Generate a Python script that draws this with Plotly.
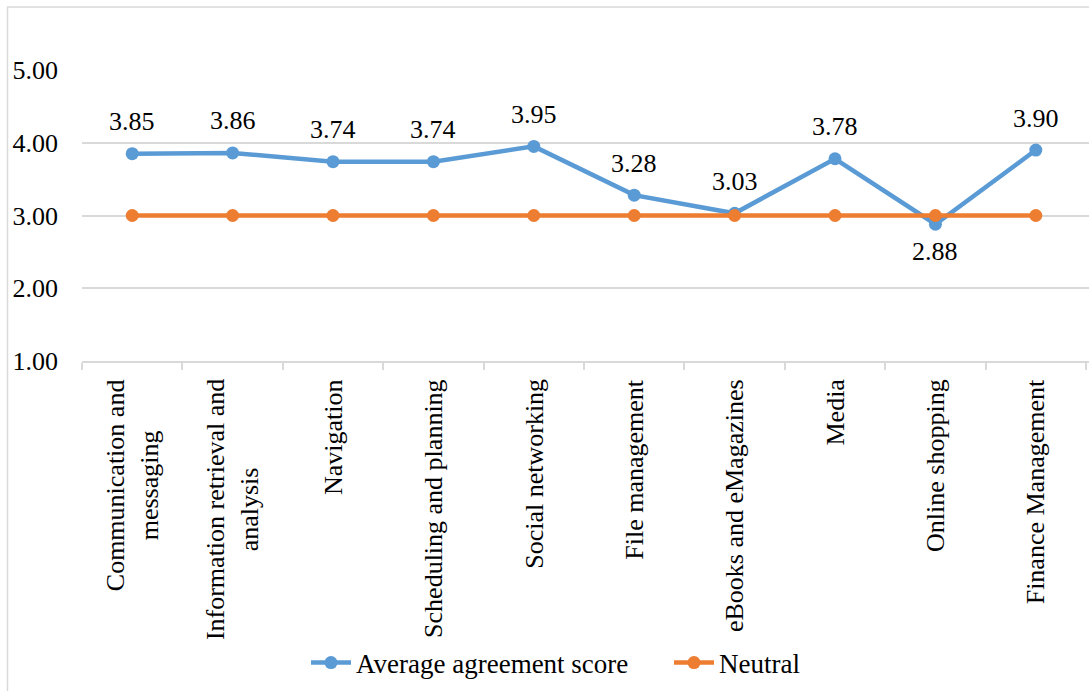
import plotly.graph_objects as go

categories = ["Communication and<br>messaging", "Information retrieval and<br>analysis",
              "Navigation", "Scheduling and planning", "Social networking",
              "File management", "eBooks and eMagazines", "Media",
              "Online shopping", "Finance Management"]
avg_scores = [3.85, 3.86, 3.74, 3.74, 3.95, 3.28, 3.03, 3.78, 2.88, 3.90]
neutral = [3.00] * 10
y_ticks = [1, 2, 3, 4, 5]
y_tick_labels = ["1.00", "2.00", "3.00", "4.00", "5.00"]

BLUE = "#5B9BD5"
ORANGE = "#ED7D31"
GRID = "#D9D9D9"
FONT = "Liberation Serif"
FS = 26

W, H = 1089, 691
ML, MR, MT, MB = 82, 0, 70, 330
pw, ph = W - ML - MR, H - MT - MB

xs = list(range(len(categories)))

fig = go.Figure()
fig.add_trace(go.Scatter(x=xs, y=avg_scores, mode="lines+markers", name="Average agreement score",
                         line=dict(color=BLUE, width=4.5), marker=dict(size=13, color=BLUE)))
fig.add_trace(go.Scatter(x=xs, y=neutral, mode="lines+markers", name="Neutral",
                         line=dict(color=ORANGE, width=4.5), marker=dict(size=13, color=ORANGE)))

annotations = []
for i, v in enumerate(avg_scores):
    below = v < 3
    annotations.append(dict(x=i, y=v, xref="x", yref="y", text=f"{v:.2f}", showarrow=False,
                            font=dict(family=FONT, size=FS, color="#000"),
                            yshift=-27 if below else 32, xanchor="center", yanchor="middle"))
for i, c in enumerate(categories):
    annotations.append(dict(x=i, y=(-(377 - (MT + ph)) / ph), xref="x", yref="paper", text=c,
                            showarrow=False, textangle=-90, align="center",
                            font=dict(family=FONT, size=FS, color="#000"),
                            xanchor="center", yanchor="top"))

shapes = [
    dict(type="line", xref="paper", yref="paper", x0=(7 - ML) / pw, x1=(W + 5 - ML) / pw,
         y0=(MT + ph - 7) / ph, y1=(MT + ph - 7) / ph, line=dict(color=GRID, width=1.5)),
    dict(type="line", xref="paper", yref="paper", x0=(7.5 - ML) / pw, x1=(7.5 - ML) / pw,
         y0=(MT + ph - 7) / ph, y1=(MT + ph - H - 5) / ph, line=dict(color=GRID, width=1.5)),
]

fig.update_layout(
    width=W, height=H,
    margin=dict(l=ML, r=MR, t=MT, b=MB, autoexpand=False),
    paper_bgcolor="white", plot_bgcolor="white",
    font=dict(family=FONT, size=FS, color="#000"),
    showlegend=True,
    legend=dict(orientation="h", x=(306 - ML) / pw, xanchor="left",
                y=-(663 - (MT + ph)) / ph, yanchor="middle",
                font=dict(family=FONT, size=27), itemwidth=40, entrywidth=308,
                entrywidthmode="pixels", traceorder="normal"),
    annotations=annotations,
    shapes=shapes,
    xaxis=dict(range=[-0.5, 9.5 + 3 / 101], showgrid=False, zeroline=False,
               tickmode="array", tickvals=[i - 0.5 for i in range(11)], ticktext=[""] * 11,
               ticks="outside", ticklen=7, tickcolor=GRID, tickwidth=1.5,
               showline=True, linecolor=GRID, linewidth=1.5, fixedrange=True),
    yaxis=dict(range=[1, 5], tickvals=y_ticks, ticktext=y_tick_labels, showgrid=True,
               gridcolor=GRID, gridwidth=1.5, zeroline=False, showline=False,
               ticks="", ticklabelstandoff=23, tickfont=dict(family=FONT, size=FS)),
)

fig.write_html("out.html")
